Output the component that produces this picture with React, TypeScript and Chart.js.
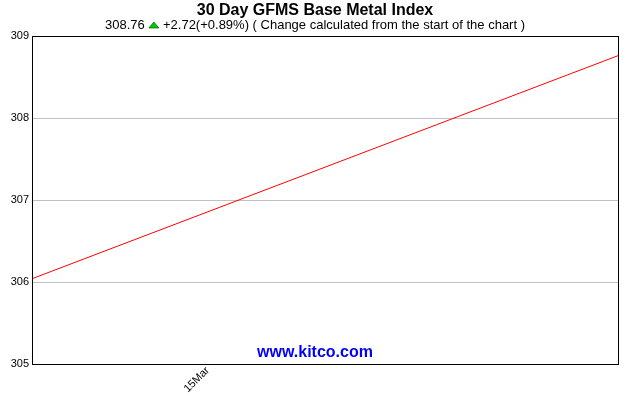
import React, { useEffect, useRef } from "react";
import { Chart, registerables } from "chart.js";

Chart.register(...registerables);

const titleText = "30 Day GFMS Base Metal Index";
const lastValue = "308.76";
const changeText = "+2.72(+0.89%)";
const noteText = " ( Change calculated from the start of the chart )";
const watermark = "www.kitco.com";

// x positions in days from the start of the 30-day window
const dayIndex = [0, 30];
const indexValues = [306.04, 308.76];
const xTickDays = [9];
const xTickLabels = ["15Mar"];
const yTickValues = [305, 306, 307, 308, 309];

const FONT = "'Liberation Sans', Arial, sans-serif";

const decorPlugin = {
  id: "decor",
  afterDraw(chart: any) {
    const { ctx, chartArea } = chart;
    const w = chart.width;
    ctx.save();
    // frame
    ctx.strokeStyle = "#000";
    ctx.lineWidth = 1;
    ctx.strokeRect(
      Math.round(chartArea.left) + 0.5,
      Math.round(chartArea.top) + 0.5,
      Math.round(chartArea.right - chartArea.left),
      Math.round(chartArea.bottom - chartArea.top)
    );
    // title
    ctx.fillStyle = "#000";
    ctx.textAlign = "center";
    ctx.textBaseline = "middle";
    ctx.font = `bold 16px ${FONT}`;
    ctx.fillText(titleText, w / 2, 11);
    // subtitle with triangle
    ctx.font = `13px ${FONT}`;
    const p1 = lastValue + " ";
    const p3 = " " + changeText + noteText;
    const triW = 11;
    const w1 = ctx.measureText(p1).width;
    const w3 = ctx.measureText(p3).width;
    const total = w1 + triW + w3;
    let x = w / 2 - total / 2;
    const y = 25;
    ctx.textAlign = "left";
    ctx.fillText(p1, x, y);
    x += w1;
    ctx.beginPath();
    ctx.moveTo(x + 0.5, y + 3);
    ctx.lineTo(x + triW - 0.5, y + 3);
    ctx.lineTo(x + triW / 2, y - 3);
    ctx.closePath();
    ctx.fillStyle = "#00cc00";
    ctx.fill();
    ctx.strokeStyle = "#006000";
    ctx.lineWidth = 0.7;
    ctx.stroke();
    x += triW;
    ctx.fillStyle = "#000";
    ctx.fillText(p3, x, y);
    // watermark
    ctx.font = `bold 16px ${FONT}`;
    ctx.textAlign = "center";
    ctx.fillStyle = "#0000ff";
    ctx.fillText(watermark, w / 2, 353);
    ctx.restore();
  },
};

export default function App() {
  const ref = useRef<HTMLCanvasElement>(null);
  useEffect(() => {
    document.body.style.margin = "0";
    const chart = new Chart(ref.current!, {
      type: "line",
      data: {
        datasets: [
          {
            data: dayIndex.map((d, i) => ({ x: d, y: indexValues[i] })),
            borderColor: "#ff0000",
            borderWidth: 1,
            pointRadius: 0,
            tension: 0,
          },
        ],
      },
      options: {
        animation: false,
        responsive: false,
        layout: { padding: { top: 36, right: 12, left: 0, bottom: 0 } },
        plugins: { legend: { display: false }, tooltip: { enabled: false }, title: { display: false } },
        scales: {
          x: {
            type: "linear",
            min: dayIndex[0],
            max: dayIndex[dayIndex.length - 1],
            afterBuildTicks(scale: any) {
              scale.ticks = xTickDays.map((v) => ({ value: v }));
            },
            afterFit(scale: any) {
              scale.height = 36;
            },
            ticks: {
              autoSkip: false,
              maxRotation: 45,
              minRotation: 45,
              color: "#000",
              font: { family: FONT, size: 11 },
              padding: -8,
              callback: (v: any) => {
                const i = xTickDays.indexOf(Number(v));
                return i >= 0 ? xTickLabels[i] : "";
              },
            },
            grid: { display: false },
            border: { display: false },
          },
          y: {
            min: yTickValues[0],
            max: yTickValues[yTickValues.length - 1],
            afterBuildTicks(scale: any) {
              scale.ticks = yTickValues.map((v) => ({ value: v }));
            },
            afterFit(scale: any) {
              scale.width = 32;
            },
            ticks: {
              color: "#000",
              font: { family: FONT, size: 11 },
              padding: 3,
            },
            grid: { color: "#c0c0c0", lineWidth: 1, drawTicks: false },
            border: { display: false },
          },
        },
      },
      plugins: [decorPlugin],
    });
    return () => chart.destroy();
  }, []);
  return (
    <div style={{ width: 630, height: 400 }}>
      <canvas ref={ref} width={630} height={400} style={{ display: "block" }} />
    </div>
  );
}
